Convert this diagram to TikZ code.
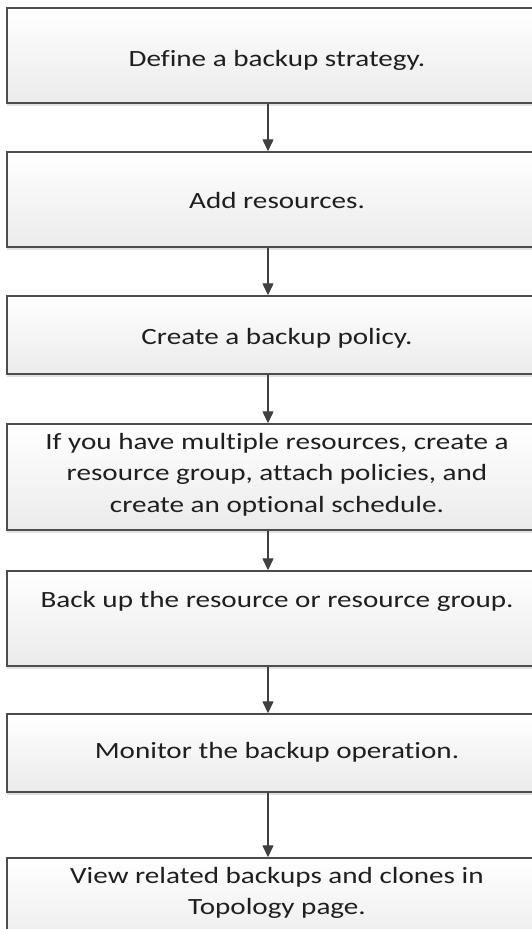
\documentclass[tikz,border=0pt]{standalone}
\usepackage{fontspec}
\setmainfont{Carlito}[FakeStretch=1.25,Ligatures={NoCommon}]
\usetikzlibrary{arrows.meta,shadows}
\begin{document}
\begin{tikzpicture}[x=1pt,y=-1pt,
  box/.style={draw=black!70, line width=1.4pt, top color=white, bottom color=black!8,
    minimum width=540pt, inner sep=0pt,
    drop shadow={shadow xshift=0pt, shadow yshift=-2.5pt, opacity=0.25, fill=black!45}},
  lbl/.style={font=\fontsize{23.3}{31.7}\selectfont, text=black!88, align=center, anchor=base, inner sep=0pt},
  arr/.style={draw=black!75, line width=1.3pt, -{Triangle[length=12pt,width=11pt]}}]
\useasboundingbox (0,0) rectangle (532,929);
\clip (0,0) rectangle (532,929);
\fill[white] (0,0) rectangle (532,929);
\coordinate (ax) at (268,0);
\node[box, minimum height=95pt] (b1) at (277,55.5) {};
\node[box, minimum height=95pt] (b2) at (277,199.5) {};
\node[box, minimum height=78pt] (b3) at (277,335) {};
\node[box, minimum height=106pt] (b4) at (277,477) {};
\node[box, minimum height=95pt] (b5) at (277,618.5) {};
\node[box, minimum height=78pt] (b6) at (277,753) {};
\node[box, minimum height=92pt] (b7) at (277,904) {};
\node[lbl] (t1) at (277,66.7) {Define a backup strategy.};
\node[lbl] (t2) at (277,208) {Add resources.};
\node[lbl] (t3) at (277,344) {Create a backup policy.};
\node[lbl] (t4) at (277,512.4) {If you have multiple resources, create a\\resource group, attach policies, and\\create an optional schedule.};
\node[lbl] (t5) at (277,607) {Back up the resource or resource group.};
\node[lbl] (t6) at (277,758) {Monitor the backup operation.};
\node[lbl] (t7) at (277,914.7) {View related backups and clones in\\Topology page.};
\draw[arr] (b1.south -| ax) -- (b2.north -| ax);
\draw[arr] (b2.south -| ax) -- (b3.north -| ax);
\draw[arr] (b3.south -| ax) -- (b4.north -| ax);
\draw[arr] (b4.south -| ax) -- (b5.north -| ax);
\draw[arr] (b5.south -| ax) -- (b6.north -| ax);
\draw[arr] (b6.south -| ax) -- (b7.north -| ax);
\end{tikzpicture}
\end{document}
